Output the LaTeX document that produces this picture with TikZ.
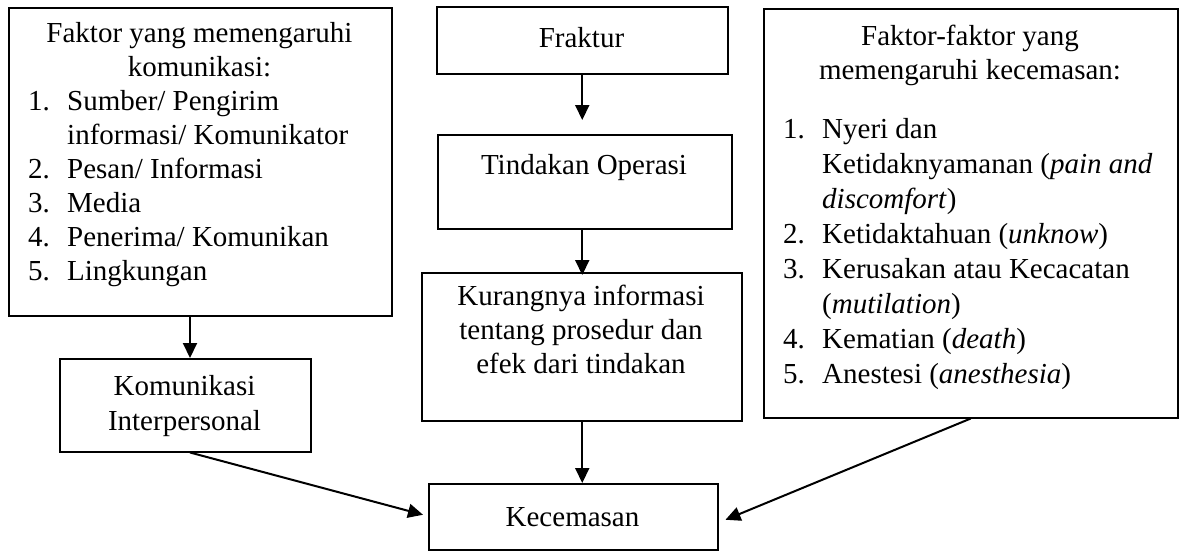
\documentclass[tikz,border=0pt]{standalone}
\usepackage{fontspec}
\setmainfont{Liberation Serif}
\usetikzlibrary{arrows.meta}
\tikzset{
  box/.style={draw, line width=1.5pt, inner sep=0pt, anchor=north west},
  txt/.style={inner sep=0pt, font=\fontsize{29}{34}\selectfont},
  arr/.style={line width=2pt, -{Triangle[length=15pt,width=14pt]}},
}
\newcommand\mytl[4]{\node[txt,anchor=base west] (#1) at (#2,#3) {#4};}
\newcommand\mytc[4]{\node[txt,anchor=base] (#1) at (#2,#3) {#4};}
\begin{document}
\begin{tikzpicture}[x=1pt,y=-1pt]
\useasboundingbox (0,0) rectangle (1180,550);
% boxes
\node[box, minimum width=383pt, minimum height=308pt] (fk) at (8,7) {};
\node[box, minimum width=251pt, minimum height=93pt] (kom) at (59,358) {};
\node[box, minimum width=291pt, minimum height=67pt] (fr) at (436,6) {};
\node[box, minimum width=294pt, minimum height=94pt] (ti) at (437,134) {};
\node[box, minimum width=320pt, minimum height=148pt] (ku) at (421,272) {};
\node[box, minimum width=289pt, minimum height=66pt] (ke) at (428,483) {};
\node[box, minimum width=414pt, minimum height=409pt] (fc) at (763,8) {};
% left box text
\mytc{a0}{199.5}{42}{Faktor yang memengaruhi}
\mytc{a00}{199.5}{76}{komunikasi:}
\mytl{a1n}{28}{110}{1.}
\mytl{a1}{67}{110}{Sumber/ Pengirim}
\mytl{a1b}{67}{144}{informasi/ Komunikator}
\mytl{a2n}{28}{178}{2.}
\mytl{a2}{67}{178}{Pesan/ Informasi}
\mytl{a3n}{28}{212}{3.}
\mytl{a3}{67}{212}{Media}
\mytl{a4n}{28}{246}{4.}
\mytl{a4}{67}{246}{Penerima/ Komunikan}
\mytl{a5n}{28}{280}{5.}
\mytl{a5}{67}{280}{Lingkungan}
% komunikasi
\mytc{k1}{184.5}{395}{Komunikasi}
\mytc{k2}{184.5}{430}{Interpersonal}
% center column
\mytc{f1}{581.5}{47}{Fraktur}
\mytc{o1}{584}{174}{Tindakan Operasi}
\mytc{u1}{581}{305}{Kurangnya informasi}
\mytc{u2}{581}{339}{tentang prosedur dan}
\mytc{u3}{581}{373}{efek dari tindakan}
\mytc{c1}{572.5}{526}{Kecemasan}
% right box text
\mytc{b0}{970}{45}{Faktor-faktor yang}
\mytc{b00}{970}{79}{memengaruhi kecemasan:}
\mytl{b1n}{783}{138}{1.}
\mytl{b1}{822}{138}{Nyeri dan}
\mytl{b1b}{822}{173}{Ketidaknyamanan (\textit{pain and}}
\mytl{b1c}{822}{208}{\textit{discomfort})}
\mytl{b2n}{783}{243}{2.}
\mytl{b2}{822}{243}{Ketidaktahuan (\textit{unknow})}
\mytl{b3n}{783}{278}{3.}
\mytl{b3}{822}{278}{Kerusakan atau Kecacatan}
\mytl{b3b}{822}{313}{(\textit{mutilation})}
\mytl{b4n}{783}{348}{4.}
\mytl{b4}{822}{348}{Kematian (\textit{death})}
\mytl{b5n}{783}{383}{5.}
\mytl{b5}{822}{383}{Anestesi (\textit{anesthesia})}
% arrows
\draw[arr] ([xshift=182pt]fk.south west) -- ([xshift=131pt]kom.north west);
\draw[arr, shorten >=14pt] (fr.south) -- (ti.north -| fr.south);
\draw[arr, shorten >=-3pt] (ti.south -| fr.south) -- (ku.north -| fr.south);
\draw[arr] (ku.south -| fr.south) -- (ke.north -| fr.south);
\draw[arr] ([xshift=131pt]kom.south west) -- ([xshift=-5pt,yshift=2pt]ke.west);
\draw[arr] (fc.south) -- ([xshift=7pt,yshift=-3pt]ke.east);
\end{tikzpicture}
\end{document}
